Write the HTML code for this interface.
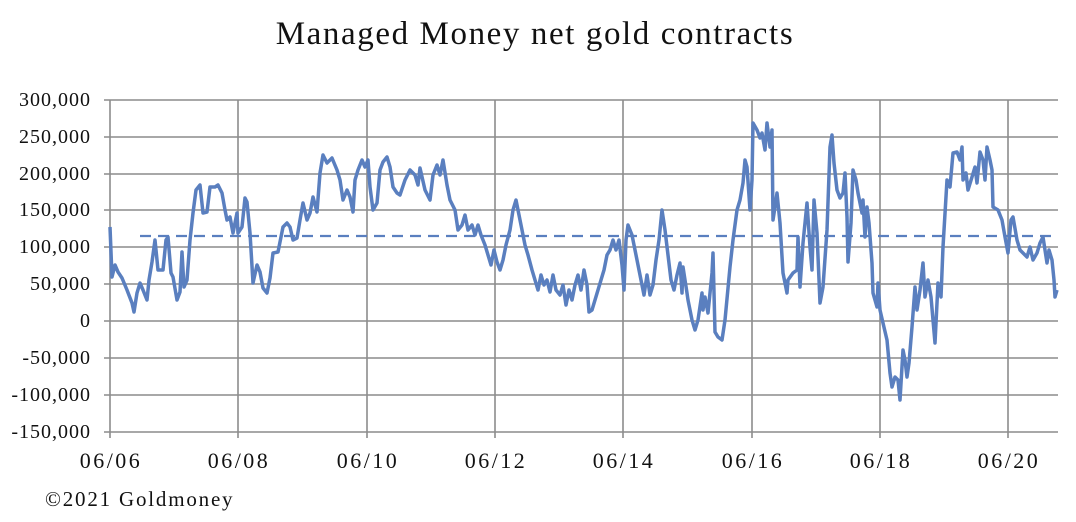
<!DOCTYPE html>
<html><head><meta charset="utf-8"><style>
html,body{margin:0;padding:0;background:#fff;}
svg{display:block;font-family:"Liberation Serif",serif;}
</style></head><body>
<svg width="1076" height="522" viewBox="0 0 1076 522" xmlns="http://www.w3.org/2000/svg">
<text x="535" y="44" font-size="33" letter-spacing="1.6" text-anchor="middle" fill="#111">Managed Money net gold contracts</text>
<g stroke="#8c8c8c" stroke-width="1.6">
<line x1="104" y1="100" x2="1058" y2="100"/><line x1="104" y1="137" x2="1058" y2="137"/>
<line x1="104" y1="174" x2="1058" y2="174"/><line x1="104" y1="210" x2="1058" y2="210"/>
<line x1="104" y1="247" x2="1058" y2="247"/><line x1="104" y1="284" x2="1058" y2="284"/>
<line x1="104" y1="321" x2="1058" y2="321"/><line x1="104" y1="358" x2="1058" y2="358"/>
<line x1="104" y1="395" x2="1058" y2="395"/><line x1="104" y1="432" x2="1058" y2="432"/>
<line x1="110" y1="100" x2="110" y2="438"/><line x1="238" y1="100" x2="238" y2="438"/>
<line x1="367" y1="100" x2="367" y2="438"/><line x1="495" y1="100" x2="495" y2="438"/>
<line x1="623" y1="100" x2="623" y2="438"/><line x1="752" y1="100" x2="752" y2="438"/>
<line x1="880" y1="100" x2="880" y2="438"/><line x1="1008" y1="100" x2="1008" y2="438"/>
</g>
<g font-size="20" letter-spacing="1" text-anchor="end" fill="#111">
<text x="91" y="106">300,000</text><text x="91" y="143">250,000</text><text x="91" y="180">200,000</text>
<text x="91" y="216">150,000</text><text x="91" y="253">100,000</text><text x="91" y="290">50,000</text>
<text x="91" y="327">0</text><text x="91" y="364">-50,000</text><text x="91" y="401">-100,000</text>
<text x="91" y="438">-150,000</text>
</g>
<g font-size="22" letter-spacing="2.5" text-anchor="middle" fill="#111">
<text x="111" y="468">06/06</text><text x="239" y="468">06/08</text><text x="368" y="468">06/10</text>
<text x="496" y="468">06/12</text><text x="624" y="468">06/14</text><text x="753" y="468">06/16</text>
<text x="881" y="468">06/18</text><text x="1009" y="468">06/20</text>
</g>
<text x="45" y="506" font-size="21" letter-spacing="1.8" fill="#111">©2021 Goldmoney</text>
<line x1="140" y1="236" x2="1058" y2="236" stroke="#5a7fbf" stroke-width="2.2" stroke-dasharray="11,7"/>
<polyline fill="none" stroke="#5a7fbf" stroke-width="3.5" stroke-linejoin="round" points="
110,227 112,277 115,265 118,272 122,278 127,290 132,303 134,312 137,293 140,283 143,290 147,300 149,280 152,262 155,240 158,270 163,270 166,240 168,237 171,273 173,277 177,300 180,292 182,252 184,287 187,280 190,240 193,213 196,190 200,185 203,213 207,212 210,187 215,187 218,185 222,193 225,210 227,220 230,217 233,233 237,213 238,233 242,227 245,198 247,202 250,233 253,283 257,265 260,272 263,288 267,293 270,278 273,253 278,252 283,227 287,223 290,227 293,240 297,238 300,220 303,203 307,220 310,213 313,197 317,212 320,173 323,155 327,163 332,158 337,170 340,180 343,200 347,190 350,197 353,212 355,180 358,170 362,160 365,167 368,160 370,187 373,210 377,203 380,170 383,162 387,157 390,167 393,187 397,193
400,195 405,180 410,170 415,175 418,185 420,168 425,190 430,200 433,175 437,165 440,175 443,160 447,185 450,200 455,210 458,230 462,225 465,215 468,230 472,225 475,235 478,225 481,235 485,245 488,255 491,265 494,250 497,262 500,270 503,260 506,245 510,230 513,210 516,200 519,215 522,230 525,245 528,255 532,270 535,280 538,290 541,275 544,285 547,280 550,292 553,275 556,290 560,295 563,285 566,305 569,290 572,300 575,285 578,275 581,290 584,270 587,285 589,312 592,310 595,300 598,290 601,280 604,270 607,255 610,250 613,240 616,250 619,240 622,265 624,290 626,240 628,225 632,235 635,250 638,265 641,280 644,295 647,275 650,295 653,285 656,260 659,240 662,210 665,230 668,255 671,280 674,290 677,275 680,263
682,293 683,267 687,293 688,300 692,320 695,330 698,320 702,293 703,310 705,297 708,313 712,273 713,253 715,332 718,337 722,340 725,320 730,267 733,240 737,210 740,200 743,183 745,160 747,167 750,210 752,180 753,123 757,130 760,138 762,133 765,150 767,123 770,147 772,130 773,220 775,207 777,193 780,223 783,273 787,293 788,280 793,273 797,270 798,237 800,287 803,243 807,203 810,247 812,270 814,200 817,233 820,303 823,287 827,230 830,147 832,135 834,163 837,190 840,198 843,193 845,173 847,217 848,262 851,223 853,170 856,180 858,193 862,213 863,200 865,237 867,207 869,223 872,263 873,293 877,307 878,283 880,310 883,323 887,340 890,373 892,387 895,377 898,380 900,400 903,350 905,360 907,377 909,363 912,327 915,287 917,310 920,290 923,263 925,297 928,280 931,297 935,343 938,283 941,297 943,247 947,180 950,187 953,153 957,152 960,160 962,147 963,180 966,173 968,190 972,177 975,167 977,183 980,152 983,160 985,180 987,147 990,160 992,170 993,207 998,210 1002,220 1005,237 1008,253 1011,220 1013,217 1017,240 1020,250 1023,253 1027,257 1030,247 1033,260 1037,253 1040,243 1043,237 1047,263 1049,250 1052,260 1054,280 1055,297 1057,290"/>
</svg>
</body></html>
